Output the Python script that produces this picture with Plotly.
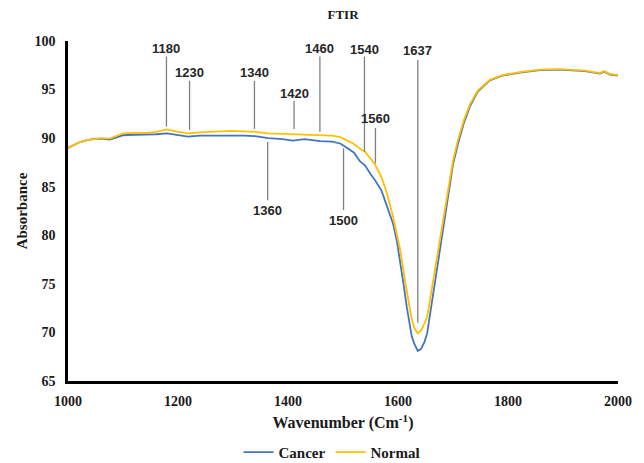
import plotly.graph_objects as go

wavenumber = [1000, 1010, 1022, 1035, 1045, 1060, 1076, 1090, 1100, 1120, 1143, 1160, 1180, 1200, 1218,
              1240, 1257, 1280, 1295, 1320, 1340, 1364, 1390, 1409, 1430, 1458, 1480, 1495, 1507, 1520,
              1531, 1540, 1550, 1558, 1570, 1580, 1591, 1598, 1604, 1610, 1616, 1621, 1625, 1630, 1636,
              1642, 1648, 1653, 1658, 1664, 1670, 1676, 1682, 1689, 1695, 1700, 1709, 1720, 1731, 1745,
              1767, 1790, 1822, 1858, 1895, 1940, 1967, 1975, 1985, 2000]

normal = [89.0, 89.3, 89.6, 89.8, 89.9, 90.0, 89.95, 90.3, 90.5, 90.55, 90.55, 90.65, 90.9, 90.65, 90.5,
          90.6, 90.65, 90.7, 90.75, 90.7, 90.65, 90.5, 90.45, 90.45, 90.4, 90.3, 90.25, 90.1, 89.8, 89.4,
          88.9, 88.6, 87.9, 87.3, 86.0, 84.3, 81.9, 80.2, 78.5, 76.3, 74.0, 72.6, 71.4, 70.4, 69.9,
          70.2, 70.9, 71.6, 73.3, 75.4, 77.5, 79.5, 81.7, 83.9, 86.0, 87.7, 89.8, 91.9, 93.5, 94.9,
          96.0, 96.5, 96.8, 97.05, 97.1, 96.95, 96.7, 96.9, 96.6, 96.5]

cancer = [89.0, 89.3, 89.6, 89.8, 89.9, 89.95, 89.85, 90.1, 90.3, 90.35, 90.35, 90.4, 90.5, 90.35, 90.15,
          90.25, 90.25, 90.3, 90.3, 90.25, 90.2, 90.0, 89.9, 89.75, 89.9, 89.7, 89.65, 89.45, 89.0, 88.5,
          87.6, 87.2, 86.3, 85.7, 84.6, 83.0, 81.2, 79.4, 77.4, 75.0, 72.6, 70.8, 69.6, 68.8, 68.1,
          68.3, 69.0, 69.9, 71.8, 74.0, 76.2, 78.5, 80.9, 83.3, 85.5, 87.3, 89.4, 91.6, 93.3, 94.8,
          95.95, 96.45, 96.75, 97.0, 97.05, 96.9, 96.65, 96.85, 96.55, 96.45]

# peak annotations: label, line x, line top y, line bottom y, label y
peak_labels = ["1180", "1230", "1340", "1420", "1460", "1540", "1560", "1637", "1500", "1360"]
peak_x      = [1179, 1221, 1339, 1411, 1458, 1539, 1559, 1636, 1501, 1363]
line_top    = [98.4, 95.9, 95.9, 93.85, 98.4, 98.4, 91.05, 98.05, 88.95, 89.6]
line_bottom = [91.2, 90.85, 90.95, 90.95, 90.65, 88.6, 87.4, 71.0, 82.6, 83.6]
label_y     = [99.2, 96.75, 96.75, 94.6, 99.2, 99.1, 92.0, 99.0, 81.5, 82.6]

x_ticks = [1000, 1200, 1400, 1600, 1800, 2000]
y_ticks = [65, 70, 75, 80, 85, 90, 95, 100]

serif = "Liberation Serif, Times New Roman, serif"
sans = "Liberation Sans, Arial, sans-serif"

fig = go.Figure()
fig.add_trace(go.Scatter(x=wavenumber, y=cancer, mode="lines", name="<b>Cancer</b>",
                         line=dict(color="#4472C4", width=1.8)))
fig.add_trace(go.Scatter(x=wavenumber, y=normal, mode="lines", name="<b>Normal</b>",
                         line=dict(color="#FFC000", width=1.8)))

for lab, px, yt, yb, ly in zip(peak_labels, peak_x, line_top, line_bottom, label_y):
    fig.add_shape(type="line", x0=px, x1=px, y0=yb, y1=yt, xref="x", yref="y",
                  line=dict(color="#808080", width=1.3))
    fig.add_annotation(x=px, y=ly, text="<b>%s</b>" % lab, showarrow=False, xref="x", yref="y",
                       font=dict(family=sans, size=13, color="#262626"))

fig.update_layout(
    width=644, height=463,
    margin=dict(l=68, r=26, t=41, b=82, autoexpand=False),
    paper_bgcolor="white", plot_bgcolor="white",
    title=dict(text="<b>FTIR</b>", x=0.5, xanchor="center", xref="paper", yref="container",
               y=0.968, yanchor="middle", automargin=False,
               font=dict(family=serif, size=13, color="#1a1a1a")),
    showlegend=True,
    legend=dict(orientation="h", x=0.48, xanchor="center", y=-0.21, yanchor="middle",
                font=dict(family=serif, size=15, color="#1a1a1a"), itemwidth=30,
                tracegroupgap=0),
    xaxis=dict(range=[1000, 2000], tickvals=x_ticks, ticktext=["<b>%d</b>" % v for v in x_ticks],
               showgrid=False, zeroline=False, showline=True, linecolor="black", linewidth=2.5,
               ticks="outside", ticklen=5, tickcolor="rgba(0,0,0,0)", automargin=False,
               tickfont=dict(family=serif, size=14, color="#1a1a1a"),
               title=dict(text="<b>Wavenumber (Cm<sup>-1</sup>)</b>", standoff=10,
                          font=dict(family=serif, size=16, color="#1a1a1a"))),
    yaxis=dict(range=[65, 100], tickvals=y_ticks, ticktext=["<b>%d</b>" % v for v in y_ticks],
               showgrid=False, zeroline=False, showline=True, linecolor="black", linewidth=2.5,
               ticks="outside", ticklen=7, tickcolor="rgba(0,0,0,0)", automargin=False,
               tickfont=dict(family=serif, size=14, color="#1a1a1a"),
               title=dict(text="<b>Absorbance</b>", standoff=4,
                          font=dict(family=serif, size=15, color="#1a1a1a"))),
)

fig.write_html("out.html", config={"displayModeBar": False},
               post_script="document.body.style.margin='0';document.body.style.overflow='hidden';")
